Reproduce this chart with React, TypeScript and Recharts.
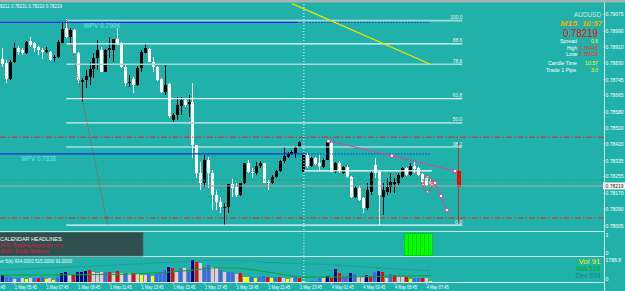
import React from 'react';
import { ComposedChart, Bar, Line, XAxis, YAxis, ReferenceLine, ReferenceDot } from 'recharts';

const BG = '#20b2aa';
const X_MIN = 0.2525;
const X_MAX = 152.78;

// AUDUSD M15, bar 0 = 1 May 04:45, weekend skipped after bar 76. [open, high, low, close]
const candles: number[][] = [
  [0.78895, 0.78935, 0.78829, 0.78844],
  [0.7885, 0.78905, 0.78809, 0.78824],
  [0.78829, 0.78844, 0.78728, 0.78748],
  [0.78748, 0.78844, 0.78743, 0.78834],
  [0.78834, 0.7893, 0.78829, 0.78905],
  [0.78905, 0.78915, 0.7887, 0.78885],
  [0.78895, 0.78905, 0.7887, 0.7888],
  [0.7888, 0.78941, 0.78875, 0.78935],
  [0.78941, 0.78961, 0.7891, 0.7892],
  [0.7893, 0.78935, 0.78885, 0.78905],
  [0.7891, 0.78915, 0.7887, 0.78895],
  [0.78895, 0.78905, 0.7885, 0.78885],
  [0.78885, 0.7891, 0.7888, 0.78895],
  [0.78885, 0.7889, 0.78839, 0.78844],
  [0.78855, 0.7887, 0.78834, 0.7886],
  [0.7886, 0.78946, 0.78855, 0.78935],
  [0.7893, 0.79032, 0.7893, 0.79001],
  [0.79006, 0.79052, 0.78956, 0.78961],
  [0.78961, 0.79006, 0.7893, 0.78996],
  [0.78996, 0.79001, 0.7888, 0.7888],
  [0.7888, 0.78885, 0.78728, 0.78743],
  [0.78733, 0.78753, 0.78632, 0.78743],
  [0.78743, 0.78794, 0.78703, 0.78763],
  [0.78758, 0.78834, 0.78718, 0.78799],
  [0.78799, 0.7888, 0.78753, 0.78855],
  [0.78855, 0.78946, 0.78794, 0.78895],
  [0.78895, 0.7891, 0.78784, 0.78784],
  [0.78784, 0.789, 0.78784, 0.78895],
  [0.78895, 0.78961, 0.78855, 0.78905],
  [0.78895, 0.78951, 0.78834, 0.78951],
  [0.78951, 0.79006, 0.7892, 0.7893],
  [0.7893, 0.78935, 0.78804, 0.78809],
  [0.78809, 0.78819, 0.78713, 0.78728],
  [0.78728, 0.78769, 0.78708, 0.78733],
  [0.78748, 0.78758, 0.78677, 0.78718],
  [0.78718, 0.78814, 0.78713, 0.78804],
  [0.78804, 0.78895, 0.78784, 0.78885],
  [0.7888, 0.78925, 0.7888, 0.78905],
  [0.789, 0.78905, 0.78834, 0.78834],
  [0.78834, 0.7886, 0.78784, 0.78809],
  [0.78809, 0.78814, 0.78738, 0.78743],
  [0.78748, 0.78753, 0.78677, 0.78683],
  [0.78683, 0.78819, 0.78667, 0.78718],
  [0.78723, 0.78728, 0.78551, 0.78561],
  [0.78541, 0.78576, 0.78531, 0.78566],
  [0.78566, 0.78657, 0.78541, 0.78617],
  [0.78612, 0.78657, 0.78566, 0.78642],
  [0.78642, 0.78652, 0.78607, 0.78617],
  [0.78622, 0.78667, 0.78556, 0.78632],
  [0.78632, 0.78728, 0.78349, 0.78414],
  [0.78414, 0.78414, 0.78247, 0.78273],
  [0.78273, 0.78328, 0.78187, 0.78222],
  [0.78222, 0.78364, 0.78202, 0.78338],
  [0.78338, 0.78354, 0.78197, 0.78273],
  [0.78273, 0.78288, 0.78085, 0.78161],
  [0.78161, 0.78187, 0.78085, 0.78126],
  [0.78126, 0.78151, 0.7807, 0.78101],
  [0.78096, 0.78121, 0.78009, 0.78101],
  [0.78101, 0.78217, 0.7807, 0.78217],
  [0.78217, 0.78242, 0.78151, 0.78197],
  [0.78202, 0.78222, 0.78151, 0.78161],
  [0.78161, 0.78222, 0.78156, 0.78222],
  [0.78222, 0.78323, 0.78217, 0.78323],
  [0.78323, 0.78338, 0.78273, 0.78278],
  [0.78278, 0.78298, 0.78247, 0.78273],
  [0.78273, 0.78328, 0.78263, 0.78308],
  [0.78308, 0.78333, 0.78298, 0.78323],
  [0.78323, 0.78323, 0.78222, 0.78222],
  [0.78227, 0.78237, 0.78187, 0.78222],
  [0.78222, 0.78263, 0.78217, 0.78252],
  [0.78252, 0.78288, 0.78247, 0.78283],
  [0.78283, 0.78338, 0.78278, 0.78333],
  [0.78333, 0.78404, 0.78323, 0.78359],
  [0.78354, 0.78379, 0.78349, 0.78374],
  [0.78369, 0.78389, 0.78364, 0.78379],
  [0.78374, 0.78409, 0.78349, 0.78404],
  [0.78404, 0.78435, 0.78399, 0.7843],
  [0.78278, 0.78374, 0.78278, 0.78364],
  [0.78364, 0.78374, 0.78298, 0.78308],
  [0.78308, 0.78354, 0.78303, 0.78349],
  [0.78349, 0.78354, 0.78313, 0.78318],
  [0.78323, 0.78364, 0.78278, 0.78308],
  [0.78303, 0.78349, 0.78298, 0.78338],
  [0.78338, 0.78435, 0.78338, 0.7843],
  [0.78424, 0.7843, 0.78278, 0.78278],
  [0.78278, 0.78328, 0.78273, 0.78323],
  [0.78323, 0.78333, 0.78273, 0.78288],
  [0.78273, 0.78308, 0.78268, 0.78303],
  [0.78303, 0.78313, 0.78247, 0.78252],
  [0.78252, 0.78258, 0.78146, 0.78151],
  [0.78151, 0.78207, 0.78146, 0.78197],
  [0.78197, 0.78207, 0.78131, 0.78136],
  [0.78146, 0.78151, 0.7807, 0.78096],
  [0.78096, 0.78222, 0.78085, 0.78187],
  [0.78177, 0.78283, 0.78161, 0.78273],
  [0.78313, 0.78349, 0.78247, 0.78273],
  [0.78278, 0.78288, 0.78009, 0.78161],
  [0.78151, 0.78222, 0.7806, 0.78187],
  [0.78177, 0.78247, 0.78161, 0.78202],
  [0.78202, 0.78273, 0.78171, 0.78227],
  [0.78217, 0.78247, 0.78171, 0.78227],
  [0.78222, 0.78273, 0.78212, 0.78263],
  [0.78252, 0.78303, 0.78247, 0.78298],
  [0.78298, 0.78303, 0.78258, 0.78263],
  [0.78263, 0.78323, 0.78258, 0.78308],
  [0.78308, 0.78328, 0.78273, 0.78293],
  [0.78298, 0.78303, 0.78258, 0.78263],
  [0.78268, 0.78273, 0.78222, 0.78227],
  [0.78247, 0.78252, 0.78207, 0.78212],
  [0.78232, 0.78242, 0.78207, 0.78219],
];

// red projected bar drawn to the right of price
const projectedBar = 116;
const projectedOhlc = [0.78283, 0.7843, 0.78014, 0.78202];

const priceTicks = [0.79075, 0.7899, 0.7891, 0.7883, 0.78745, 0.78665, 0.7858, 0.785, 0.7842, 0.78335, 0.78255, 0.7817, 0.7809, 0.78005];

const timeBars = [-4, 4, 12, 20, 28, 36, 44, 52, 60, 68, 76, 84, 92, 100, 108];
const timeLabels = [
  '1 May 03:45', '1 May 05:45', '1 May 07:45', '1 May 09:45', '1 May 11:45', '1 May 13:45', '1 May 15:45',
  '1 May 17:45', '1 May 19:45', '1 May 21:45', '1 May 23:45', '4 May 01:45', '4 May 03:45', '4 May 05:45', '4 May 07:45',
];

const fibLabels = ['100.0', '88.6', '78.6', '61.8', '50.0', '38.2', '0.0'];
const fibPrices = [0.79044, 0.78926, 0.78823, 0.78649, 0.78526, 0.78404, 0.78009];
const fibFaint = [true, false, true, false, true, false, false];
const fibFrom = 17;
const fibTo = 117;

const wpvPrices = [0.79035, 0.78369];
const wpvSolidTo = [75.3, 77.3];
const wpvDottedTo = 108.8;

const dayHighLow = [0.78454, 0.78045];
const greenLevel = 0.78237;
const bidLevel = 0.78207;
const bidText = '0.78219';
const boxLevel = 0.78283;
const separatorBar = 77;

const pinkTrend = [{ i: 83.2, p: 0.78435 }, { i: 99.2, p: 0.7836 }, { i: 115.1, p: 0.78283 }];
const pinkProjection = [{ i: 109.2, p: 0.78222 }, { i: 110.1, p: 0.78222 }, { i: 111.6, p: 0.78156 }, { i: 113.1, p: 0.78085 }];
const redDiagonal = [{ i: 17, p: 0.79047 }, { i: 27.5, p: 0.78004 }];
const yellowTrend = [{ i: 74, p: 0.7913 }, { i: 108.8, p: 0.78824 }];
const ellipseAt = { i: 108.2, p: 0.78215 };

// green histogram in the sub window
const signalOn = [103, 104, 105, 106, 107, 108, 109];

// volume panel
const volumes = [
  400, 567, 432, 432, 243, 297, 297, 243, 297, 351,
  297, 378, 243, 297, 162, 432, 702, 783, 567, 567,
  837, 837, 891, 972, 783, 756, 783, 837, 837, 702,
  891, 702, 702, 702, 756, 621, 567, 567, 621, 513,
  702, 837, 972, 1242, 1161, 891, 1107, 1161, 972, 1788,
  1650, 1512, 1242, 1377, 1242, 1107, 972, 837, 837, 783,
  621, 702, 432, 432, 378, 297, 432, 513, 432, 297,
  432, 432, 297, 216, 297, 378, 351, 60, 40, 81,
  120, 351, 297, 513, 297, 1026, 702, 432, 432, 702,
  621, 513, 432, 567, 513, 783, 918, 783, 351, 621,
  567, 432, 432, 432, 216, 351, 351, 351, 297, 91,
];
const volumeKinds = 'bnbbpbpypb' + 'rbypybnnpr' + 'nnnrpppbrp' + 'rpbprpypby' + 'bbbnrpbpbn' +
  'rpbbppbpbb' + 'pryybybbry' + 'brpypbrybb' + 'bbpnrnrbbn' + 'bppnrbnrpb' + 'rpprybbrpy';
const maPoints = [[0, 560], [25, 600], [42, 780], [50, 1000], [55, 1150], [60, 1130], [66, 900], [72, 600], [77, 400], [90, 420], [100, 480], [109, 515]];
const devPoints = [[0, 970], [17, 1200], [34, 1450], [49, 1700], [56, 1780], [60, 1760], [72, 1530], [81, 1450], [93, 1220], [101, 1050], [109, 934]];

const kindColor: Record<string, string> = { n: '#000080', b: '#4a62e8', r: '#ff0000', p: '#ffc0cb', y: '#ffff00' };

const priceRows = [
  ...candles.map(([o, h, l, c], i) => ({ i, o, h, l, c, proj: false })),
  { i: projectedBar, o: projectedOhlc[0], h: projectedOhlc[1], l: projectedOhlc[2], c: projectedOhlc[3], proj: true },
];
const volumeRows = volumes.map((v, i) => ({ i, v, kind: volumeKinds[i] }));
const signalRows = signalOn.map((i) => ({ i, s: 1 }));
const maRows = maPoints.map(([i, v]) => ({ i, v }));
const devRows = devPoints.map(([i, v]) => ({ i, v }));

const CandleShape = (props: any) => {
  const { x, y, width, height, payload } = props;
  if (!payload || !isFinite(y) || !isFinite(height)) return null;
  const { o, h, l, c, proj } = payload;
  const k = h > l ? height / (h - l) : 0;
  const yOf = (p: number) => y + (h - p) * k;
  const cx = Math.floor(x + width / 2) + 0.5;
  const color = proj ? '#ff0000' : c >= o ? '#000000' : '#ffffff';
  const top = Math.round(yOf(Math.max(o, c)));
  const bottom = Math.max(top + 1, Math.round(yOf(Math.min(o, c))));
  const bw = proj ? 4 : 3;
  return (
    <g shapeRendering="crispEdges">
      <line x1={cx} x2={cx} y1={Math.round(y)} y2={Math.round(y + height)} stroke={proj ? '#c03030' : color} />
      <rect x={cx - 1.5} y={top} width={bw} height={bottom - top} fill={color} />
    </g>
  );
};

const VolumeShape = (props: any) => {
  const { x, y, width, height, payload } = props;
  if (!payload || !isFinite(y) || height <= 0) return null;
  const cx = Math.floor(x + width / 2) + 0.5;
  return <rect x={cx - 1.5} y={Math.round(y)} width={3} height={Math.round(y + height) - Math.round(y)} fill={kindColor[payload.kind]} shapeRendering="crispEdges" />;
};

const SignalShape = (props: any) => {
  const { x, y, width, height } = props;
  if (!isFinite(y)) return null;
  const cx = x + width / 2;
  return <rect x={cx - 2} y={y} width={4} height={height} fill="#00ff00" stroke="#00b800" strokeWidth={0.5} />;
};

const SquareDot = (props: any) => {
  const { cx, cy } = props;
  if (!isFinite(cx) || !isFinite(cy)) return null;
  return <rect x={cx - 1.5} y={cy - 1.5} width={3} height={3} fill="#ffffff" stroke="#e0409a" strokeWidth={0.8} />;
};

const EllipseMark = (props: any) => {
  const { cx, cy } = props;
  return (
    <g>
      <ellipse cx={cx} cy={cy} rx={4.5} ry={7.5} fill="none" stroke="#ff2020" strokeWidth={0.8} strokeDasharray="1.5 1" />
      {[[0, -7.5], [0, 7.5], [-4.5, 0], [4.5, 0]].map(([dx, dy], n) => (
        <rect key={n} x={cx + dx - 1} y={cy + dy - 1} width={2} height={2} fill="#ffffff" stroke="#ff2020" strokeWidth={0.5} />
      ))}
    </g>
  );
};

const PriceTick = (props: any) => {
  const { x, y, payload } = props;
  return (
    <g>
      <line x1={x - 0.5} x2={x + 1.5} y1={y} y2={y} stroke="#ffffff" strokeWidth={0.8} />
      <text x={x + 1.5} y={y + 1.9} fontSize={5.2} fill="#ffffff" textLength={18} lengthAdjust="spacingAndGlyphs">
        {payload.value.toFixed(5)}
      </text>
    </g>
  );
};

const makeSmallTick = (shift: (v: number) => number, fmt: (v: number) => string) => (props: any) => {
  const { x, y, payload } = props;
  const s = fmt(payload.value);
  return (
    <text x={x + 1.5} y={y + shift(payload.value) + 1.9} fontSize={5.2} fill="#ffffff"
      textLength={s.length > 2 ? s.length * 2.6 : undefined} lengthAdjust="spacingAndGlyphs">
      {s}
    </text>
  );
};
const SignalTick = makeSmallTick((v) => (v === 1 ? 1.7 : -2.7), (v) => String(v));
const VolumeTick = makeSmallTick((v) => (v === 0 ? -3 : 0), (v) => (v === 0 ? '0' : v.toFixed(1)));

const TimeTick = (props: any) => {
  const { x, y, payload } = props;
  const label = timeLabels[timeBars.indexOf(payload.value)];
  return (
    <g>
      <line x1={x} x2={x} y1={y} y2={y + 2.5} stroke="#d6eeee" strokeWidth={0.8} />
      <text x={x} y={y + 7.1} fontSize={6} fill="#ffffff" textLength={22} lengthAdjust="spacingAndGlyphs">{label}</text>
    </g>
  );
};

const fibLabel = (text: string) => (props: any) => {
  const vb = props.viewBox;
  if (!vb) return null;
  return (
    <text x={vb.x + vb.width} y={vb.y - 1.5} textAnchor="end" fontSize={5.5} fill="#e4f4f4"
      textLength={text.length * 2.4} lengthAdjust="spacingAndGlyphs">{text}</text>
  );
};

const bidLabel = (props: any) => {
  const vb = props.viewBox;
  if (!vb) return null;
  const x = vb.x + vb.width;
  return (
    <g>
      <rect x={x - 1} y={vb.y - 3.5} width={22} height={7} fill="#f4f4f4" />
      <text x={x + 1.5} y={vb.y + 1.9} fontSize={5.2} fill="#303030" textLength={18} lengthAdjust="spacingAndGlyphs">{bidText}</text>
    </g>
  );
};

function PriceChart() {
  return (
    <ComposedChart width={625} height={232} data={priceRows} margin={{ top: 3, right: 0, bottom: 2, left: 0 }}>
      <XAxis type="number" dataKey="i" domain={[X_MIN, X_MAX]} allowDataOverflow hide />
      <YAxis orientation="right" width={21} domain={[0.77984, 0.79133]} allowDataOverflow ticks={priceTicks}
        interval={0} tick={<PriceTick />} tickLine={false} axisLine={false} tickSize={0} tickMargin={0} />

      {dayHighLow.map((p) => (
        <ReferenceLine key={p} y={p} stroke="#e82020" strokeDasharray="6 2 1.5 2" />
      ))}
      <ReferenceLine y={greenLevel} stroke="#2a9a4a" strokeDasharray="1.5 1.5" />
      <ReferenceLine y={bidLevel} stroke="#b8a4a4" label={bidLabel} />

      {fibPrices.map((p, n) => (
        <ReferenceLine key={fibLabels[n]} segment={[{ x: fibFrom, y: p }, { x: fibTo, y: p }]}
          stroke={fibFaint[n] ? '#a6dcd8' : '#e8f8f8'} strokeWidth={fibFaint[n] ? 1.6 : 1.2}
          label={fibLabel(fibLabels[n])} />
      ))}

      {wpvPrices.map((p, n) => (
        <ReferenceLine key={'s' + p} segment={[{ x: X_MIN, y: p }, { x: wpvSolidTo[n], y: p }]} stroke="#1030e8" strokeWidth={1.2} />
      ))}
      {wpvPrices.map((p, n) => (
        <ReferenceLine key={'d' + p} segment={[{ x: wpvSolidTo[n], y: p }, { x: wpvDottedTo, y: p }]} stroke="#1030e8" strokeDasharray="1.5 1.5" />
      ))}

      <ReferenceLine segment={[{ x: separatorBar, y: boxLevel }, { x: 109.3, y: boxLevel }]} stroke="#ffffff" strokeWidth={1.2} />
      <ReferenceLine x={separatorBar} stroke="#ffffff" strokeDasharray="1 2" />
      <ReferenceLine segment={[{ x: redDiagonal[0].i, y: redDiagonal[0].p }, { x: redDiagonal[1].i, y: redDiagonal[1].p }]} stroke="#e02828" strokeDasharray="1 1.5" />
      <ReferenceLine segment={[{ x: yellowTrend[0].i, y: yellowTrend[0].p }, { x: yellowTrend[1].i, y: yellowTrend[1].p }]} stroke="#f2e000" strokeWidth={1.2} />

      <Bar dataKey={(d: any) => [d.l, d.h]} barSize={3} shape={<CandleShape />} isAnimationActive={false} />

      <Line data={pinkTrend} dataKey="p" type="linear" stroke="#e0409a" strokeWidth={1} dot={<SquareDot />} isAnimationActive={false} />
      <Line data={pinkProjection} dataKey="p" type="linear" stroke="#e0409a" strokeWidth={1} dot={<SquareDot />} isAnimationActive={false} />
      <ReferenceDot x={ellipseAt.i} y={ellipseAt.p} r={1} shape={EllipseMark} />
    </ComposedChart>
  );
}

function SignalChart() {
  return (
    <ComposedChart width={625} height={25} data={signalRows} margin={{ top: 1.3, right: 0, bottom: 1.3, left: 0 }}>
      <XAxis type="number" dataKey="i" domain={[X_MIN, X_MAX]} allowDataOverflow hide />
      <YAxis orientation="right" width={21} domain={[0, 1]} ticks={[0, 1]} interval={0} tick={<SignalTick />}
        tickLine={false} axisLine={false} tickSize={0} tickMargin={0} />
      <ReferenceLine x={separatorBar} stroke="#ffffff" strokeDasharray="1 2" />
      <Bar dataKey="s" barSize={4} shape={<SignalShape />} isAnimationActive={false} />
    </ComposedChart>
  );
}

function VolumeChart() {
  return (
    <ComposedChart width={625} height={34} data={volumeRows} margin={{ top: 0.5, right: 0, bottom: 0, left: 0 }}>
      <XAxis type="number" dataKey="i" domain={[X_MIN, X_MAX]} allowDataOverflow ticks={timeBars} interval={0}
        tick={<TimeTick />} tickLine={false} axisLine={false} tickSize={0} tickMargin={0} height={9} />
      <YAxis orientation="right" width={21} domain={[0, 1992]} ticks={[0, 1788.8]} interval={0} tick={<VolumeTick />}
        tickLine={false} axisLine={false} tickSize={0} tickMargin={0} />
      <ReferenceLine x={separatorBar} stroke="#ffffff" strokeDasharray="1 2" />
      <Bar dataKey="v" barSize={3} shape={<VolumeShape />} isAnimationActive={false} />
      <Line data={devRows} dataKey="v" type="monotone" stroke="#1f7f66" strokeDasharray="1 1.5" dot={false} isAnimationActive={false} />
      <Line data={maRows} dataKey="v" type="monotone" stroke="#12a030" dot={false} isAnimationActive={false} />
    </ComposedChart>
  );
}

function Txt({ x, y, children, size = 6, color = '#ffffff', anchor = 'start', len, weight, italic }: any) {
  return (
    <text x={x} y={y + size * 0.35} fontSize={size} fill={color} textAnchor={anchor}
      textLength={len} lengthAdjust={len ? 'spacingAndGlyphs' : undefined}
      fontWeight={weight} fontStyle={italic ? 'italic' : undefined}>
      {children}
    </text>
  );
}

export default function App() {
  return (
    <div style={{ position: 'fixed', left: 0, top: 0, width: 625, height: 291, background: BG, overflow: 'hidden', fontFamily: '"Liberation Sans", Arial, sans-serif' }}>
      <div style={{ position: 'absolute', left: 0, top: 0 }}><PriceChart /></div>
      <div style={{ position: 'absolute', left: 0, top: 232 }}><SignalChart /></div>
      <div style={{ position: 'absolute', left: 0, top: 257 }}><VolumeChart /></div>

      <svg width={625} height={291} style={{ position: 'absolute', left: 0, top: 0, pointerEvents: 'none' }}>
        <rect x={0} y={0} width={625} height={2.5} fill="#a6b4b4" />
        <Txt x={0} y={6} len={62}>8211 0.78231 0.78210 0.78219</Txt>

        <line x1={604.5} x2={604.5} y1={2.5} y2={291} stroke="#d6eeee" />
        <line x1={0} x2={604} y1={231.5} y2={231.5} stroke="#c8e6e3" />
        <line x1={0} x2={604} y1={256.5} y2={256.5} stroke="#c8e6e3" />
        <line x1={0} x2={604} y1={282.5} y2={282.5} stroke="#d6eeee" />

        <Txt x={83.5} y={25.5} size={7} color="#70e4ee" len={36.5}>WPV 0.7904</Txt>
        <Txt x={21} y={158.5} size={7} color="#70e4ee" len={35}>WPV 0.7838</Txt>

        <Txt x={601} y={14.5} size={7} color="#d2e6e6" anchor="end" len={27}>AUDUSD</Txt>
        <Txt x={577} y={23.5} size={7} color="#ffa500" anchor="end" len={17} weight="bold" italic>M15</Txt>
        <Txt x={602} y={23.5} size={7} color="#ffa500" anchor="end" len={20} weight="bold" italic>10:57</Txt>
        <Txt x={598} y={33.5} size={10.5} color="#ff0000" anchor="end" len={35}>0.78219</Txt>
        <Txt x={577} y={41.5} size={5.5} anchor="end" len={17}>Spread</Txt>
        <Txt x={598} y={41.5} size={5.5} anchor="end" color="#ffff00" len={7}>0.6</Txt>
        <Txt x={577} y={48} size={5.5} anchor="end" len={10}>High</Txt>
        <Txt x={598} y={48} size={5.5} anchor="end" color="#ff2020" len={19}>0.78445</Txt>
        <Txt x={577} y={54.5} size={5.5} anchor="end" len={11}>Low</Txt>
        <Txt x={598} y={54.5} size={5.5} anchor="end" color="#ff2020" len={19}>0.78029</Txt>
        <Txt x={577} y={63} size={5.5} anchor="end" len={29}>Candle Time</Txt>
        <Txt x={598} y={63} size={5.5} anchor="end" color="#ffff00" len={13}>10:57</Txt>
        <Txt x={576} y={70} size={5.5} anchor="end" len={30}>Trade 1 Pips</Txt>
        <Txt x={598} y={70} size={5.5} anchor="end" color="#ffff00" len={7}>3.0</Txt>

        <rect x={-1} y={232.5} width={144} height={23.5} fill="#2f4f4f" stroke="#456a6a" strokeWidth={0.8} />
        <Txt x={0} y={238.5} len={63}>CALENDAR HEADLINES:</Txt>
        <Txt x={0} y={245} color="#e8103c" len={63}>AUD: Building Approvals m/m</Txt>
        <Txt x={0} y={251} color="#e8103c" len={49}>AUD: Trade Balance</Txt>

        <Txt x={0} y={261} len={72}>er 5(k) 934.0000 515.0000 91.0000</Txt>
        <Txt x={600.5} y={261.5} size={6.5} color="#f0f000" anchor="end" len={22}>Vol 91</Txt>
        <Txt x={600.5} y={268.5} size={6.5} color="#00b000" anchor="end" len={24}>MA 515</Txt>
        <Txt x={600.5} y={275.5} size={6.5} color="#1f7c7c" anchor="end" len={25}>Dev 934</Txt>
      </svg>
    </div>
  );
}
